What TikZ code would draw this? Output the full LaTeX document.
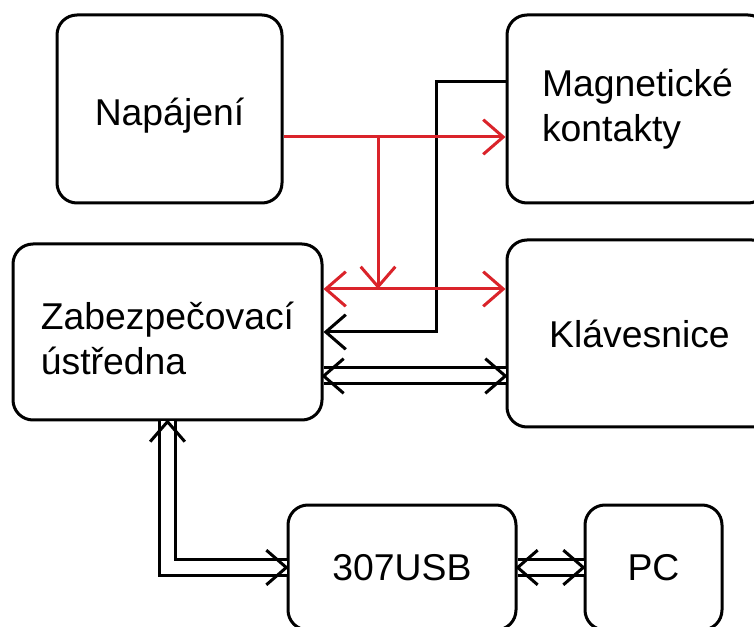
\documentclass[tikz,border=0pt]{standalone}
\usepackage{fontspec}
\setmainfont{Liberation Sans}
\usetikzlibrary{arrows.meta, decorations.markings}
\definecolor{wirered}{RGB}{218,35,42}
\newcommand{\posun}[1]{\raisebox{-5pt}[\height][\depth]{#1}}

\begin{document}
\begin{tikzpicture} [
    x=0.75pt, y=-0.75pt,
    >={Straight Barb[length=15pt, width=26pt]},
    box/.style={rectangle, draw, line width=2.25pt, rounded corners=15pt, align=left, font=\fontsize{28}{34}\selectfont},
    arrow/.style={->, line width=2.25pt},
    power/.style={arrow, draw=wirered},
    bus/.style={line width=2.25pt, double, double distance=9.75pt,
        postaction={decorate, decoration={markings,
            mark=at position 0 with {\pgfsetinnerlinewidth{0pt}\pgftransformxshift{-10.75pt}\arrowreversed{>}},
            mark=at position 1 with {\pgfsetinnerlinewidth{0pt}\pgftransformxshift{10.75pt}\arrow{>}}}}}
]
    \useasboundingbox (0,0) rectangle (754,627);
    \clip (0,0) rectangle (754,627);

    % bloky
    \node[box, minimum width=168.75pt, minimum height=141pt] (nap) at (169.5,109) {\posun{Napájení}};
    \node[box, minimum width=195.75pt, minimum height=141pt] (mag) at (637.5,109) {Magnetické\\kontakty};
    \node[box, minimum width=231.75pt, minimum height=132pt] (zab) at (167.5,332) {\posun{Zabezpečovací}\\\posun{ústředna}};
    \node[box, minimum width=198.75pt, minimum height=140.25pt] (klav) at (639.5,333.5) {Klávesnice};
    \node[box, minimum width=171pt, minimum height=93.75pt] (usb) at (402,567.5) {307USB};
    \node[box, minimum width=102.75pt, minimum height=93.75pt] (pc) at (653.5,567.5) {PC};

    % body vedeni
    \coordinate (split) at (378,137);
    \coordinate (join) at (378,289);
    \coordinate (bend) at (436,82);
    \coordinate (keys) at (0,376);

    % signal kontaktu
    \draw[arrow] (mag.west |- bend) -- (bend) |- (zab.east);

    % datove sbernice
    \draw[bus] (zab.east |- keys) -- (klav.west |- keys);
    \draw[bus] (zab.south) |- (usb.west);
    \draw[bus] (usb.east) -- (pc.west);

    % napajeni
    \draw[power] (nap.east |- split) -- (mag.west |- split);
    \draw[power] (split) -- (join);
    \draw[power, <->] (zab.east |- join) -- (klav.west |- join);
\end{tikzpicture}
\end{document}
